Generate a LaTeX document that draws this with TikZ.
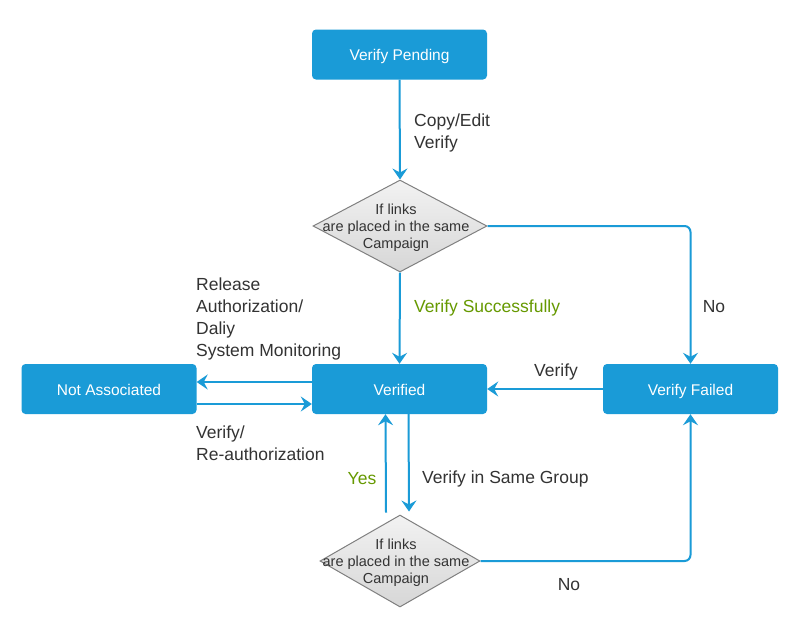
\documentclass[tikz,border=0pt]{standalone}
\usepackage{fontspec}
\setmainfont{Liberation Sans}
\usetikzlibrary{arrows.meta,shapes.geometric}
\definecolor{boxblue}{HTML}{1A9BD7}
\definecolor{txtgray}{HTML}{333333}
\definecolor{okgreen}{HTML}{669900}
\tikzset{
	state/.style={fill=boxblue, rounded corners=4pt, minimum width=175pt, minimum height=50pt, inner sep=0pt, text height=14pt, text depth=2pt, text=white, font=\fontsize{15.5}{18}\selectfont},
	decide/.style={diamond, draw=black!50, line width=1pt, top color=black!5, bottom color=black!16, minimum width=174pt, minimum height=92pt, inner sep=0pt},
	dtext/.style={align=center, text=txtgray, yshift=-2pt, xshift=-4pt, font=\fontsize{14.5}{17}\selectfont},
	flow/.style={draw=boxblue, line width=2pt, -{Stealth[length=11pt,width=15pt,inset=4pt]}},
	lbl/.style={text=txtgray, align=left, inner sep=0pt, font=\fontsize{17.5}{22}\selectfont}
}

\begin{document}
\begin{tikzpicture}[x=1pt, y=-1pt]
			%%%%% START %%%%%
			
			\useasboundingbox[fill=white] (0, 0) rectangle (787, 619);
			
			\node[state] (pend) at (399.5, 54.5) {Verify Pending};
			\node[decide, label={[dtext]center:If links\\are placed in the same\\Campaign}] (chk1) at (400, 226) {};
			\node[state] (ver) at (399.5, 389) {Verified};
			\node[state] (nass) at (109, 389) {Not Associated};
			\node[state] (fail) at (690.5, 389) {Verify Failed};
			\node[decide, minimum width=160pt, label={[dtext]center:If links\\are placed in the same\\Campaign}] (chk2) at (400, 561) {};
			
			\draw[flow] (pend.south) -- (chk1.north);
			\draw[flow, rounded corners=6pt] (chk1.east) -| (fail.north);
			\draw[flow] (chk1.south) -- (ver.north);
			\draw[flow] ([yshift=7pt]ver.west) -- ([yshift=7pt]nass.east);
			\draw[flow] ([yshift=-15pt]nass.east) -- ([yshift=-15pt]ver.west);
			\draw[flow] (fail.west) -- (ver.east);
			\draw[flow] ([xshift=9pt]ver.south) -- ([xshift=9pt, yshift=3pt]chk2.north);
			\draw[flow] ([xshift=-14pt, yshift=2pt]chk2.north) -- ([xshift=-14pt]ver.south);
			\draw[flow, rounded corners=6pt] (chk2.east) -| (fail.south);
			
			\node[lbl, anchor=west] (copy) at (414, 133) {Copy/Edit\\Verify};
			\node[lbl, anchor=west, text=okgreen] (succ) at (414, 308) {Verify Successfully};
			\node[lbl] (no1) at (714, 307) {No};
			\node[lbl, anchor=west] (rel) at (196, 319) {Release\\Authorization/\\Daliy\\System Monitoring};
			\node[lbl, anchor=west] (reauth) at (196, 443) {Verify/\\Re-authorization};
			\node[lbl] (vfy) at (556, 372) {Verify};
			\node[lbl, text=okgreen] (yes) at (362, 479) {Yes};
			\node[lbl, anchor=west] (same) at (422, 479) {Verify in Same Group};
			\node[lbl] (no2) at (569, 585) {No};
			
			%%%%% END %%%%%
\end{tikzpicture}
\end{document}
